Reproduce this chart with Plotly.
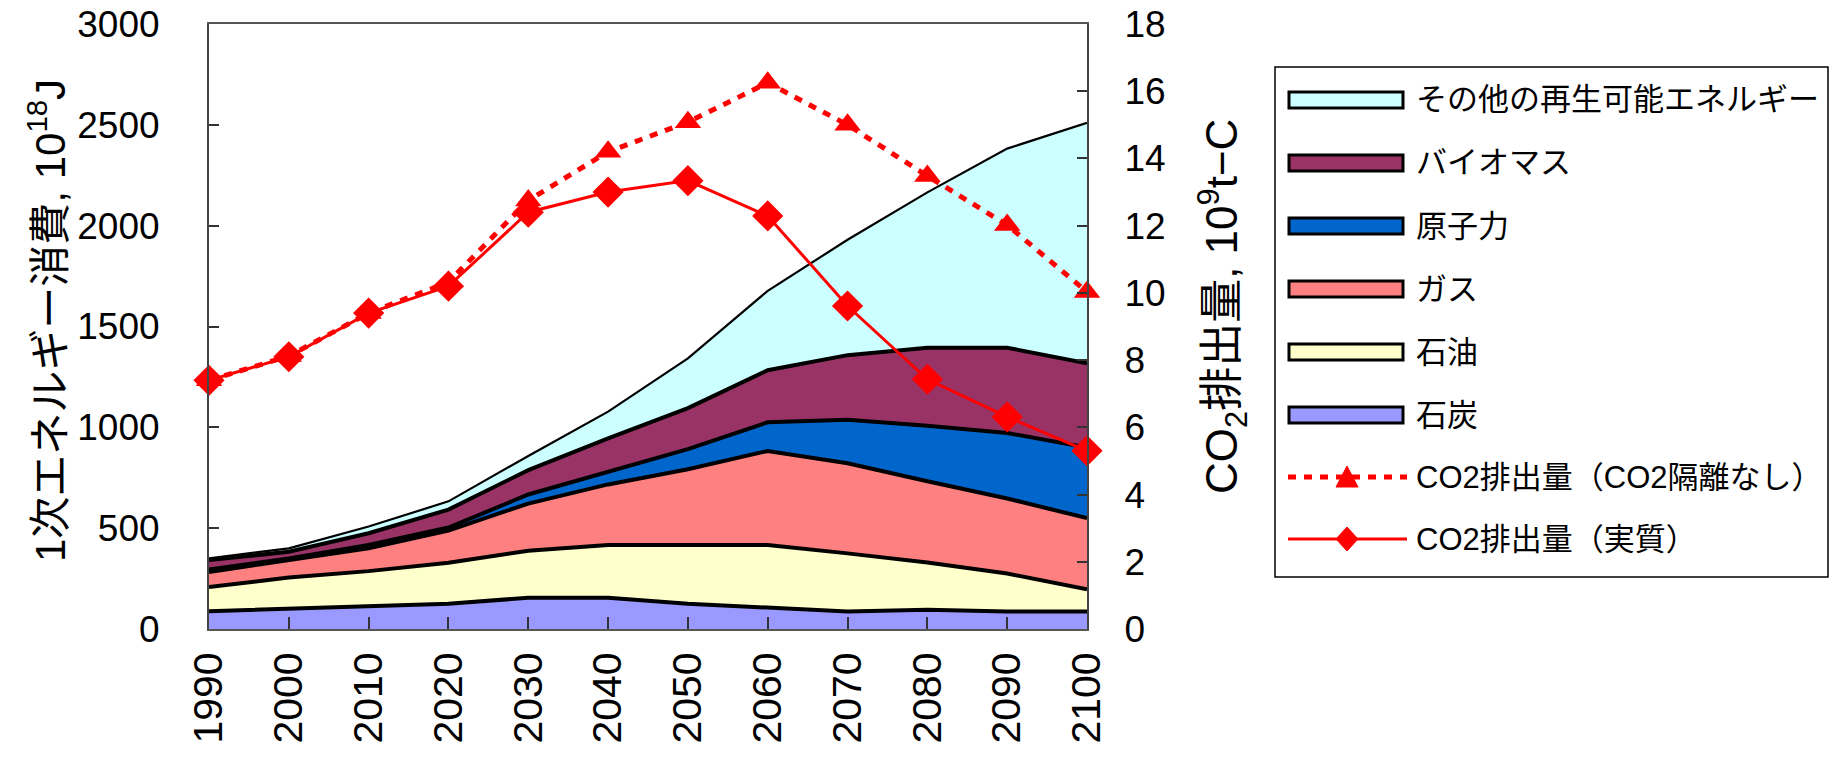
import plotly.graph_objects as go

# Decades on the horizontal axis
years = [1990, 2000, 2010, 2020, 2030, 2040, 2050, 2060, 2070, 2080, 2090, 2100]

# Primary energy consumption by source, 10^18 J (stacked bottom to top)
coal = [88, 100, 113, 125, 155, 155, 125, 108, 87, 95, 87, 87]
oil = [120, 155, 174, 203, 233, 262, 292, 309, 288, 235, 188, 110]
gas = [75, 87, 113, 160, 234, 300, 375, 466, 447, 403, 372, 353]
nuclear = [12, 8, 17, 15, 45, 61, 100, 142, 216, 275, 325, 350]
biomass = [47, 33, 58, 89, 121, 167, 203, 258, 320, 387, 423, 417]
renewables = [8, 17, 33, 41, 70, 133, 247, 394, 572, 770, 987, 1193]

# CO2 emissions, 10^9 t-C
co2_no_capture = [7.40, 8.12, 9.40, 10.32, 12.75, 14.20, 15.08, 16.25, 15.00, 13.48, 12.02, 10.03]
co2_net = [7.40, 8.10, 9.40, 10.20, 12.40, 13.00, 13.34, 12.29, 9.61, 7.43, 6.31, 5.30]

area_names = ["石炭", "石油", "ガス", "原子力", "バイオマス", "その他の再生可能エネルギー"]
area_colors = ["#9999FF", "#FFFFCC", "#FF8080", "#0066CC", "#993366", "#CCFFFF"]
area_series = [coal, oil, gas, nuclear, biomass, renewables]
co2_names = ["CO2排出量（CO2隔離なし）", "CO2排出量（実質）"]

FONT = "Liberation Sans, Noto Sans CJK JP, sans-serif"
W_FIG, H_FIG = 1832, 757
L, R, T, B = 209, 745, 24, 128
PW = W_FIG - L - R
PH = H_FIG - T - B
DOT_DASH = "8px,8px"


def px_x(px):
    return (px - L) / PW


def px_y(py):
    return (T + PH - py) / PH


fig = go.Figure()

for i, (name, color, vals) in enumerate(zip(area_names, area_colors, area_series)):
    fig.add_trace(go.Scatter(
        x=years, y=vals, name=name, stackgroup="energy", mode="lines",
        line=dict(color="black", width=2.2 if i == len(area_names) - 1 else 4),
        fillcolor=color, showlegend=False, hoverinfo="x+y+name",
    ))

fig.add_trace(go.Scatter(
    x=years, y=co2_no_capture, name=co2_names[0], yaxis="y2",
    mode="lines+markers", cliponaxis=False,
    line=dict(color="#FF0000", width=5, dash=DOT_DASH),
    marker=dict(symbol="triangle-up", size=23, color="#FF0000"),
    showlegend=False,
))
fig.add_trace(go.Scatter(
    x=years, y=co2_net, name=co2_names[1], yaxis="y2",
    mode="lines+markers", cliponaxis=False,
    line=dict(color="#FF0000", width=3),
    marker=dict(symbol="diamond", size=24, color="#FF0000"),
    showlegend=False,
))

shapes = []
annotations = []

# Legend frame
shapes.append(dict(type="rect", xref="paper", yref="paper",
                   x0=px_x(1275), x1=px_x(1828), y0=px_y(577), y1=px_y(67),
                   line=dict(color="black", width=1.5), fillcolor="white", layer="below"))

legend_rows = [100, 163, 226, 289, 352, 415, 477, 539]
legend_order = list(range(len(area_names) - 1, -1, -1))
LEG_SIZE = 31
for row, idx in zip(legend_rows[:6], legend_order):
    yc = row
    shapes.append(dict(type="rect", xref="paper", yref="paper",
                       x0=px_x(1289), x1=px_x(1403), y0=px_y(yc + 8), y1=px_y(yc - 8),
                       line=dict(color="black", width=3), fillcolor=area_colors[idx]))
    annotations.append(dict(xref="paper", yref="paper", x=px_x(1414), y=px_y(yc),
                            text=area_names[idx], showarrow=False, xanchor="left",
                            yanchor="middle", font=dict(family=FONT, size=LEG_SIZE, color="black")))

# CO2 legend rows: line sample plus marker
y_dot, y_sol = legend_rows[6], legend_rows[7]
shapes.append(dict(type="line", xref="paper", yref="paper",
                   x0=px_x(1288), x1=px_x(1407), y0=px_y(y_dot), y1=px_y(y_dot),
                   line=dict(color="#FF0000", width=5, dash=DOT_DASH)))
shapes.append(dict(type="line", xref="paper", yref="paper",
                   x0=px_x(1288), x1=px_x(1407), y0=px_y(y_sol), y1=px_y(y_sol),
                   line=dict(color="#FF0000", width=3)))
mx = 1347
tri = "M {},{} L {},{} L {},{} Z".format(
    px_x(mx - 11), px_y(y_dot + 10), px_x(mx + 11), px_y(y_dot + 10), px_x(mx), px_y(y_dot - 11))
shapes.append(dict(type="path", xref="paper", yref="paper", path=tri,
                   fillcolor="#FF0000", line=dict(color="#FF0000", width=1)))
dia = "M {},{} L {},{} L {},{} L {},{} Z".format(
    px_x(mx - 11), px_y(y_sol), px_x(mx), px_y(y_sol - 12),
    px_x(mx + 11), px_y(y_sol), px_x(mx), px_y(y_sol + 12))
shapes.append(dict(type="path", xref="paper", yref="paper", path=dia,
                   fillcolor="#FF0000", line=dict(color="#FF0000", width=1)))
for yc, label in zip([y_dot, y_sol], co2_names):
    annotations.append(dict(xref="paper", yref="paper", x=px_x(1414), y=px_y(yc),
                            text=label, showarrow=False, xanchor="left", yanchor="middle",
                            font=dict(family=FONT, size=LEG_SIZE, color="black")))

# Axis titles
annotations.append(dict(xref="paper", yref="paper", x=px_x(47), y=px_y(321),
                        text="1次エネルギー消費, 10<sup>18</sup>J", textangle=-90,
                        showarrow=False, xanchor="center", yanchor="middle",
                        font=dict(family=FONT, size=42, color="black")))
annotations.append(dict(xref="paper", yref="paper", x=px_x(1222), y=px_y(307),
                        text="CO<sub>2</sub>排出量, 10<sup>9</sup>t−C", textangle=-90,
                        showarrow=False, xanchor="center", yanchor="middle",
                        font=dict(family=FONT, size=44, color="black")))

tickfont = dict(family=FONT, size=37, color="black")
fig.update_layout(
    width=W_FIG, height=H_FIG,
    margin=dict(l=L, r=R, t=T, b=B, autoexpand=False),
    paper_bgcolor="white", plot_bgcolor="white",
    showlegend=False,
    xaxis=dict(range=[1990, 2100], tickvals=years, ticktext=[str(y) for y in years],
               tickangle=-90, tickfont=dict(family=FONT, size=41, color="black"),
               ticks="inside", ticklen=12,
               tickcolor="#333333", tickwidth=1.5, showgrid=False, zeroline=False,
               showline=True, linecolor="#555555", linewidth=2, mirror=True,
               ticklabelstandoff=5, automargin=False),
    yaxis=dict(range=[0, 3000], tickvals=[0, 500, 1000, 1500, 2000, 2500, 3000],
               tickfont=tickfont, ticks="inside", ticklen=10, tickcolor="#333333",
               tickwidth=1.5, showgrid=False, zeroline=False, showline=True,
               linecolor="#444444", linewidth=2, mirror=True, ticklabelstandoff=40,
               automargin=False),
    yaxis2=dict(range=[0, 18], tickvals=list(range(0, 19, 2)), overlaying="y",
                side="right", tickfont=tickfont, ticks="inside", ticklen=10,
                tickcolor="#333333", tickwidth=1.5, showgrid=False, zeroline=False,
                showline=True, linecolor="#444444", linewidth=2, ticklabelstandoff=28,
                automargin=False),
    shapes=shapes,
    annotations=annotations,
)

fig.write_html("out.html")
